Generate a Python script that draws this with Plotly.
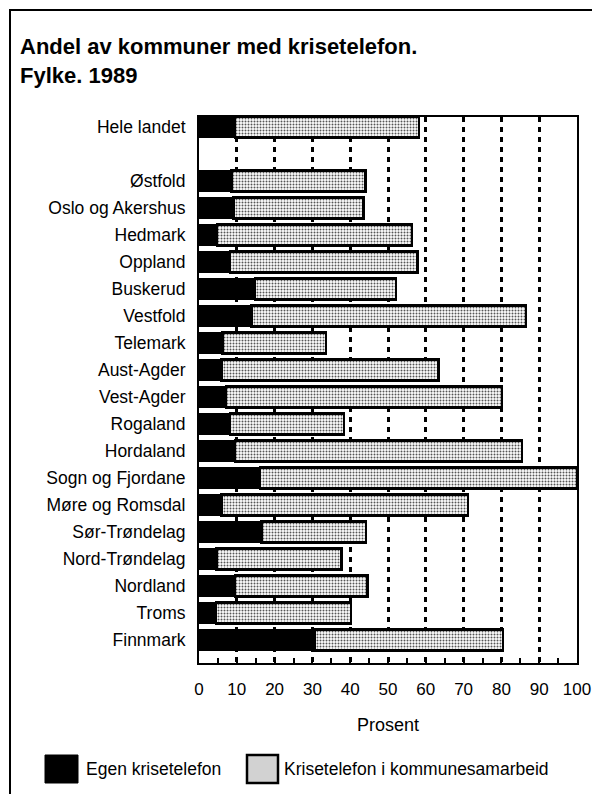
import plotly.graph_objects as go

# Andel kommuner med krisetelefon, prosent
fylker = ["Hele landet", "Østfold", "Oslo og Akershus", "Hedmark", "Oppland",
          "Buskerud", "Vestfold", "Telemark", "Aust-Agder", "Vest-Agder",
          "Rogaland", "Hordaland", "Sogn og Fjordane", "Møre og Romsdal",
          "Sør-Trøndelag", "Nord-Trøndelag", "Nordland", "Troms", "Finnmark"]
egen = [9.5, 8.6, 9.1, 4.7, 8.2, 14.8, 13.9, 6.2, 5.9, 7.1,
        8.2, 9.5, 16.1, 5.9, 16.5, 4.6, 9.5, 4.5, 30.5]
samarbeid = [48.7, 35.4, 34.4, 51.6, 49.6, 37.3, 72.6, 27.4, 57.4, 73.0,
             30.2, 75.9, 83.9, 65.2, 27.7, 33.1, 35.1, 35.7, 49.9]
x_ticks = [0, 10, 20, 30, 40, 50, 60, 70, 80, 90, 100]

FONT = "Liberation Sans, Arial, sans-serif"
# empty slot between the national total and the counties
kategorier = [fylker[0], " "] + fylker[1:]

fig = go.Figure()
fig.add_trace(go.Bar(
    y=fylker, x=egen, orientation="h", name="Egen krisetelefon",
    width=0.77,
    marker=dict(color="black", line=dict(color="black", width=2)),
))
fig.add_trace(go.Bar(
    y=fylker, x=samarbeid, orientation="h", name="Krisetelefon i kommunesamarbeid",
    width=0.77,
    marker=dict(color="white", line=dict(color="black", width=2.5),
                pattern=dict(shape=".", fgcolor="#555555", bgcolor="white",
                             size=3, solidity=0.35, fillmode="replace")),
))

# page has an 8px body margin, so the figure is kept inside the window
fig.update_layout(
    barmode="stack",
    width=584, height=786,
    margin=dict(l=191, r=15, t=109, b=131),
    paper_bgcolor="white", plot_bgcolor="white",
    showlegend=False,
    font=dict(family=FONT, size=17, color="black"),
    title=dict(text="<b>Andel av kommuner med krisetelefon.<br>Fylke. 1989</b>",
               font=dict(size=22, family=FONT, color="black"),
               xref="container", yref="container", x=12 / 584, y=1 - 46 / 786,
               xanchor="left", yanchor="top"),
)

fig.update_xaxes(
    range=[0, 100], tickvals=x_ticks, automargin=False,
    showline=True, linecolor="black", linewidth=2, mirror=True,
    ticks="inside", ticklen=5, tickwidth=2, tickcolor="black",
    minor=dict(ticks="inside", dtick=5, ticklen=5, tickwidth=2, tickcolor="black",
               showgrid=False),
    showgrid=True, gridcolor="black", gridwidth=2.5, griddash="5px,5px",
    zeroline=False, tickfont=dict(size=17), ticklabelstandoff=10,
    title=dict(text="Prosent", font=dict(size=18), standoff=20),
)
fig.update_yaxes(
    type="category", categoryorder="array", categoryarray=kategorier,
    range=[19.85, -0.37], automargin=False,
    showline=True, linecolor="black", linewidth=2, mirror=True,
    ticks="", showgrid=False, zeroline=False,
    tickfont=dict(size=17.5), ticklabelstandoff=8,
)


# helpers: reference page pixels -> paper coordinates
def px_x(p):
    return (p - 199) / 378


def px_y(p):
    return (663 - p) / 546


# outer frame: only top and left edges show on the scanned page
fig.add_shape(type="path", xref="paper", yref="paper",
              path=f"M {px_x(640)},{px_y(10)} L {px_x(10)},{px_y(10)} L {px_x(10)},{px_y(860)}",
              line=dict(color="black", width=2), layer="below")

# legend drawn by hand with large swatches
fig.add_shape(type="rect", xref="paper", yref="paper",
              x0=px_x(45), x1=px_x(78), y0=px_y(783), y1=px_y(755),
              fillcolor="black", line=dict(color="black", width=1))
fig.add_shape(type="rect", xref="paper", yref="paper",
              x0=px_x(247), x1=px_x(278), y0=px_y(783), y1=px_y(755),
              fillcolor="#d2d2d2", line=dict(color="black", width=2.5))
fig.add_annotation(text="Egen krisetelefon", xref="paper", yref="paper",
                   x=px_x(84), y=px_y(769), xanchor="left", yanchor="middle",
                   showarrow=False, font=dict(size=17.5))
fig.add_annotation(text="Krisetelefon i kommunesamarbeid", xref="paper", yref="paper",
                   x=px_x(282), y=px_y(769), xanchor="left", yanchor="middle",
                   showarrow=False, font=dict(size=17.5))

fig.write_html("out.html")
